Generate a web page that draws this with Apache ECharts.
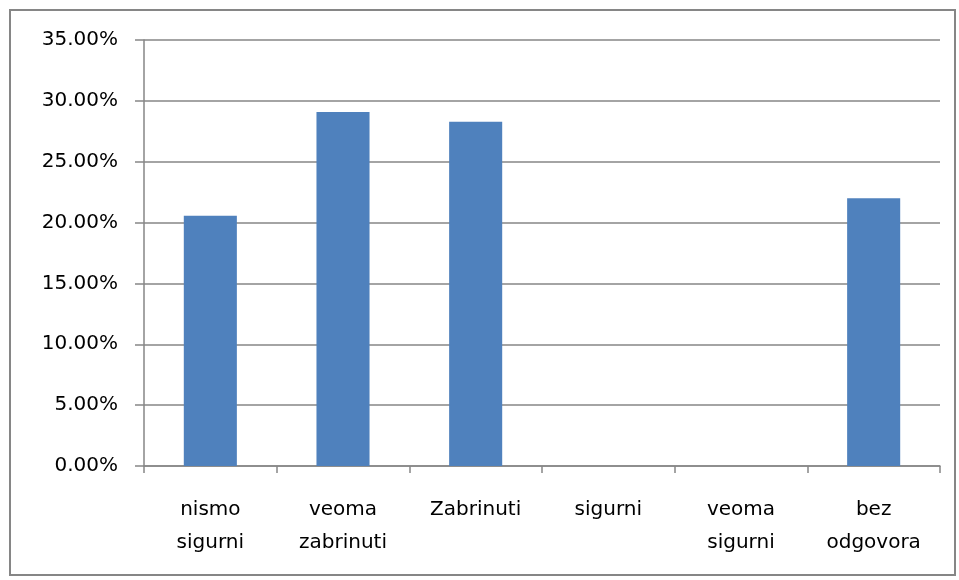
<!DOCTYPE html>
<html>
<head>
<meta charset="utf-8">
<script src="https://cdn.jsdelivr.net/npm/echarts@6/dist/echarts.min.js"></script>
<style>
  html, body { margin: 0; padding: 0; background: #fff; }
  #chart { width: 959px; height: 580px; }
</style>
</head>
<body>
<div id="chart"></div>
<script>
// podaci
var categories = ['nismo\nsigurni', 'veoma\nzabrinuti', 'Zabrinuti', 'sigurni', 'veoma\nsigurni', 'bez\nodgovora'];
var values = [20.57, 29.09, 28.29, 0, 0, 22.0];
var yTicks = { min: 0, max: 35, interval: 5 };

var chart = echarts.init(document.getElementById('chart'));

var gray = '#868686';
var font = 'DejaVu Sans';

var option = {
  animation: false,
  backgroundColor: '#fff',
  grid: { left: 144, right: 19, top: 40, bottom: 114 },
  graphic: [{
    type: 'rect',
    shape: { x: 10, y: 10, width: 945, height: 565 },
    style: { fill: 'none', stroke: gray, lineWidth: 2 },
    silent: true
  }],
  xAxis: {
    type: 'category',
    data: categories,
    axisLine: { lineStyle: { color: gray, width: 1.5 } },
    axisTick: { show: true, length: 7, lineStyle: { color: gray, width: 1.5 } },
    axisLabel: {
      color: '#000',
      fontFamily: font,
      fontSize: 20,
      lineHeight: 33,
      margin: 27,
      interval: 0
    }
  },
  yAxis: {
    type: 'value',
    min: yTicks.min,
    max: yTicks.max,
    interval: yTicks.interval,
    axisLine: { show: true, lineStyle: { color: gray, width: 1.5 } },
    axisTick: { show: true, length: 9, lineStyle: { color: gray, width: 1.5 } },
    splitLine: { lineStyle: { color: gray, width: 1.5 } },
    axisLabel: {
      color: '#000',
      fontFamily: font,
      fontSize: 20,
      margin: 26,
      formatter: function (v) { return v.toFixed(2) + '%'; }
    }
  },
  series: [{
    type: 'bar',
    data: values,
    barCategoryGap: '60%',
    itemStyle: { color: '#4F81BD' }
  }]
};

chart.setOption(option);
</script>
</body>
</html>
